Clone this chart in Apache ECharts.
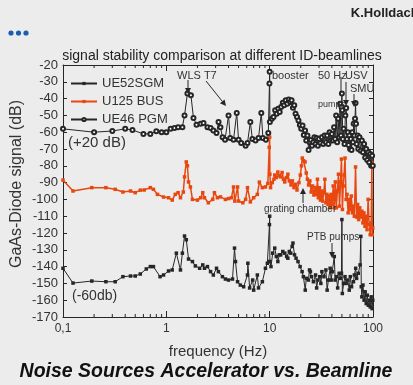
<!DOCTYPE html>
<html>
<head>
<meta charset="utf-8">
<script src="https://cdn.jsdelivr.net/npm/echarts@6/dist/echarts.min.js"></script>
<style>
  html, body { margin: 0; padding: 0; background: #ececec; }
  #chart { width: 413px; height: 385px; }
</style>
</head>
<body>
<div id="chart"></div>
<script>
// UE46 PGM (shifted +20 dB), open circles
const ue46 = [
  [0.1,-58],[0.2,-60],[0.3,-59.3],[0.4,-58],[0.47,-58.7],[0.6,-61],[0.7,-61],[0.8,-59.5],[0.9,-60],[1.0,-60],
  [1.1,-58],[1.2,-57.5],[1.3,-57],[1.43,-57],[1.5,-50],[1.6,-37],[1.73,-38],[1.83,-51.5],[1.96,-55.5],[2.15,-55],
  [2.29,-54.5],[2.5,-57],[2.68,-57.5],[2.85,-59],[3.06,-60.5],[3.2,-54],[3.34,-57],[3.5,-63],[3.7,-64.5],[4.0,-50],
  [4.15,-63.5],[4.47,-64.5],[4.8,-48.5],[5.0,-64.5],[5.3,-66.4],[5.85,-68],[6.1,-66.4],[6.5,-54],[6.8,-64],[7.3,-65],
  [7.8,-63.5],[8.3,-48.5],[8.6,-63.5],[9.2,-64.5],[9.7,-60.5],[9.95,-31],[10.0,-24],[10.05,-54],[10.5,-52],[10.9,-51],
  [11.3,-47],[11.7,-49],[12.1,-46],[12.5,-48],[12.9,-45],[13.4,-42.5],[13.8,-44],[14.3,-41],[14.8,-43],[15.3,-40.5],
  [15.8,-42],[16.3,-41],[16.8,-45.5],[17.3,-44],[17.8,-49],[18.4,-51],[19,-53],[19.6,-55.7],[20.2,-58],[20.8,-56],
  [21.4,-61.7],[22,-59],[22.6,-65],[23.2,-62],[23.8,-70.6],[24.4,-66],[25,-64.6],[25.7,-68],[26.4,-66],[27.1,-63],
  [27.8,-67],[28.5,-63.5],[29.3,-68],[30,-64],[31,-66.5],[32,-63],[33,-67],[34,-62],[35,-66],[36,-62],
  [37,-67],[38,-60],[39,-65],[40,-61],[41,-65],[42,-57],[43,-64],[44,-50],[45,-66],[46,-52],
  [47,-63],[48,-43],[49,-62],[49.6,-45],[50,-37],[50.4,-47],[51,-64],[52,-58],[53,-67],[54,-50],
  [55,-45.6],[56,-64],[57,-60],[58,-67.6],[59,-62],[60,-70],[61,-64],[62,-70.6],[63,-60],[64,-66],
  [65,-55],[66,-62],[67,-52],[67.8,-42.6],[68.5,-55],[69.4,-67],[71,-62],[72,-70],[74,-63],[76,-71],
  [78,-65],[80,-72],[82,-67],[84,-75],[86,-70],[88,-76.5],[90,-72],[92,-78],[94,-73],[96,-80],[98,-74],[99.5,-80]
];

// U125 BUS, orange
const u125 = [
  [0.1,-88.5],[0.125,-95],[0.19,-93],[0.26,-93],[0.32,-94],[0.38,-95.6],[0.45,-95],[0.5,-96],[0.56,-94.5],[0.61,-94.4],
  [0.7,-93],[0.75,-94],[0.82,-97],[0.94,-98.6],[1.05,-99],[1.14,-100.4],[1.22,-97],[1.3,-96],[1.37,-99],[1.46,-95.6],
  [1.5,-86.6],[1.56,-77.7],[1.6,-80],[1.64,-89.6],[1.71,-92.6],[1.79,-100],[2.0,-100.4],[2.15,-99],[2.25,-96],[2.34,-99],
  [2.55,-102],[2.81,-100],[2.92,-96],[3.12,-99],[3.34,-98.5],[3.73,-100],[4.0,-99.5],[4.27,-99],[4.47,-92.6],[4.6,-101],
  [4.89,-92.6],[5.0,-101],[5.5,-102],[5.85,-100],[6.1,-93],[6.5,-101.5],[7.0,-99],[7.6,-97],[7.95,-89.7],[8.5,-93],
  [9.1,-92.6],[9.6,-90.5],[9.9,-69],[10.0,-63],[10.05,-85],[10.2,-93],[10.6,-90],[11.0,-88],[11.2,-85.5],[11.6,-87],
  [12.0,-83.7],[12.4,-86],[12.8,-86.6],[13.2,-84],[13.6,-88],[14.0,-89.6],[14.5,-87],[15.0,-85],[15.5,-89],[16.1,-91.4],
  [16.6,-89],[17.2,-93],[17.8,-91],[18.4,-94.4],[19.2,-90],[19.8,-85.5],[20.3,-80],[20.7,-75.4],[21.3,-77],[22,-77.7],
  [22.6,-84.3],[23.2,-88],[23.8,-91.4],[24.5,-89],[25.2,-95.6],[26,-92],[26.8,-97.4],[27.6,-93],[28.4,-97],[29,-88],
  [29.6,-99],[30.3,-93],[31,-100.4],[31.8,-95],[32.6,-101],[33.4,-96],[34.2,-88],[35,-102],[35.8,-97],[36.7,-103],
  [37.6,-98],[38.5,-105],[39.4,-97],[40.3,-103],[41.2,-92],[42.2,-105],[43.2,-89.6],[44.2,-105],[45.2,-95],[46.3,-85],
  [47.4,-104],[48.5,-89.6],[49.5,-76],[50.6,-106],[51.5,-92],[52.5,-85.5],[53.6,-75.4],[54.9,-100],[56,-97],[57.5,-108],
  [58.9,-100],[60.3,-106],[61.7,-98],[63.2,-108],[64.7,-104],[66,-110],[67.8,-80.7],[69.4,-110.5],[71,-103],[72.7,-112],
  [74.4,-105],[76.2,-110.5],[78,-107],[79.8,-114],[81.7,-108],[83.6,-116],[85.6,-110],[87.6,-118],[89.7,-100],[91.8,-115],
  [94,-121],[96.1,-114],[97.5,-78],[98.4,-121],[99.5,-117]
];

// UE52SGM (shifted -60 dB), filled squares
const ue52 = [
  [0.1,-141],[0.125,-149.8],[0.19,-148.6],[0.26,-149],[0.32,-149],[0.38,-146],[0.45,-145.6],[0.5,-145.6],[0.56,-144.4],[0.64,-141.4],
  [0.7,-140],[0.75,-140],[0.87,-146],[0.94,-145],[1.05,-142.6],[1.14,-142],[1.25,-132],[1.37,-142],[1.43,-132],[1.5,-121.8],
  [1.56,-124],[1.64,-135.5],[1.79,-137],[1.91,-139.6],[2.1,-141],[2.25,-139],[2.34,-141],[2.5,-140],[2.68,-143],[2.85,-145],
  [3.06,-141],[3.19,-143],[3.49,-146],[3.73,-147.4],[4.0,-148],[4.37,-147.4],[4.57,-129],[4.67,-137],[4.89,-149],[5.2,-151],
  [5.6,-152],[6.1,-145],[6.15,-138],[6.4,-152.7],[6.85,-148],[7.0,-154],[7.6,-145],[7.8,-152.7],[8.5,-149],[9.1,-141],
  [9.5,-138],[9.8,-137],[9.95,-115],[10.0,-110],[10.05,-137],[10.3,-140],[10.7,-132],[11.2,-129],[11.6,-134],[12.0,-137],
  [12.4,-133],[12.8,-133],[13.4,-131],[14.0,-132],[14.6,-134],[15.0,-135],[15.5,-131],[16.0,-132],[16.5,-128],[16.8,-126],
  [17.4,-133],[18.0,-135],[18.8,-137],[19.7,-140],[20.6,-143],[21.2,-146],[22.1,-154],[22.6,-147],[23.7,-148],[24.3,-142],
  [24.8,-143],[25.4,-146],[26.5,-149],[27.8,-145],[28.5,-152.7],[29.3,-148],[30.5,-146],[31.3,-150],[32,-143],[33.5,-146],
  [35,-142],[36,-154],[37,-148],[38.5,-141],[39.4,-148],[40.3,-143],[42.2,-134],[43,-148],[44.2,-146],[45.5,-152.7],
  [47,-144],[48.5,-147],[49.5,-144],[50,-112],[50.5,-156],[52,-150],[53.6,-146],[55,-150],[57,-148],[58.9,-154],
  [60.3,-146],[62,-152],[64.7,-149],[66,-145],[68,-141],[69.4,-147],[72,-144],[75,-139],[76.2,-122],[77,-152],
  [78,-158],[80,-151],[82,-160],[84,-155],[86,-162],[88,-157],[90,-163],[92,-160],[94,-164],[96,-158],[98,-165],[99.5,-160]
];

const seriesNames = ['UE52SGM', 'U125 BUS', 'UE46 PGM'];
const minorTicks = [0.2,0.3,0.4,0.5,0.6,0.7,0.8,0.9,2,3,4,5,6,7,8,9,20,30,40,50,60,70,80,90];
const yMin = -170, yMax = -20;

const DARK = '#262626';
const ORANGE = '#e8470f';
const FONT = 'Liberation Sans, Arial, sans-serif';

function arrow(x1, y1, x2, y2) {
  const a = Math.atan2(y2 - y1, x2 - x1);
  const s = 6, w = 3;
  const bx = x2 - s * Math.cos(a), by = y2 - s * Math.sin(a);
  return [
    { type: 'line', shape: { x1, y1, x2: bx, y2: by }, style: { stroke: DARK, lineWidth: 1 }, z: 20 },
    { type: 'polygon', shape: { points: [[x2, y2], [bx - w * Math.sin(a), by + w * Math.cos(a)], [bx + w * Math.sin(a), by - w * Math.cos(a)]] }, style: { fill: DARK }, z: 20 }
  ];
}

function txt(x, y, text, size, extra) {
  return {
    type: 'text', x, y, z: 20,
    style: Object.assign({ text, font: size + 'px ' + FONT, fill: '#333', textVerticalAlign: 'middle' }, extra || {})
  };
}

const chart = echarts.init(document.getElementById('chart'));

const graphics = [
  txt(418, 13, 'K.Holldack', 13, { font: 'bold 13px ' + FONT, fill: '#222', textAlign: 'right' }),
  { type: 'circle', shape: { cx: 11, cy: 33, r: 2.6 }, style: { fill: '#1a5fae' } },
  { type: 'circle', shape: { cx: 18.5, cy: 33, r: 2.6 }, style: { fill: '#1a5fae' } },
  { type: 'circle', shape: { cx: 26, cy: 33, r: 2.6 }, style: { fill: '#1a5fae' } },
  txt(222, 56, 'signal stability comparison at different ID-beamlines', 14, { textAlign: 'center', fill: '#222' }),
  { type: 'text', x: 17, y: 184, rotation: Math.PI / 2, z: 20,
    style: { text: 'GaAs-Diode signal (dB)', font: '16px ' + FONT, fill: '#333', textAlign: 'center', textVerticalAlign: 'middle' } },
  txt(218, 352, 'frequency (Hz)', 15, { textAlign: 'center' }),
  txt(206, 372, 'Noise Sources Accelerator vs. Beamline', 20, { font: 'italic bold 19.5px ' + FONT, fill: '#111', textAlign: 'center' }),
  txt(68, 143, '(+20 dB)', 15),
  txt(72, 296, '(-60db)', 14),
  txt(177, 76, 'WLS T7', 11),
  txt(272, 76, 'booster', 11),
  txt(318, 76, '50 Hz', 11),
  txt(345, 76, 'USV', 11),
  txt(350, 89, 'SMU', 11),
  txt(318, 105, 'pumps', 9),
  txt(264, 209, 'grating chamber', 10),
  txt(307, 237, 'PTB pumps', 10),
  { type: 'line', shape: { x1: 341, y1: 77, x2: 341, y2: 93 }, style: { stroke: DARK, lineWidth: 1 }, z: 20 }
].concat(
  arrow(188, 80, 188, 94),
  arrow(206, 81, 226, 106),
  arrow(346, 82, 346, 106),
  arrow(354, 94, 354, 107),
  arrow(303, 203, 303, 188),
  arrow(332, 243, 332, 258)
);

chart.setOption({
  animation: false,
  backgroundColor: '#ececec',
  grid: { left: 63, right: 40, top: 65, bottom: 68 },
  legend: {
    data: seriesNames,
    orient: 'vertical',
    left: 65, top: 72,
    itemWidth: 26, itemHeight: 4, itemGap: 5,
    textStyle: { fontSize: 13, color: '#333', fontFamily: FONT }
  },
  xAxis: [
    {
      type: 'log', logBase: 10, min: 0.1, max: 100, position: 'bottom',
      axisLine: { lineStyle: { color: DARK } },
      axisTick: { inside: true, length: 6, lineStyle: { color: DARK } },
      splitLine: { show: false },
      axisLabel: {
        fontSize: 12, color: '#333', fontFamily: FONT, margin: 6,
        formatter: v => (Math.abs(v - 0.1) < 1e-6 ? '0,1' : String(Math.round(v)))
      }
    },
    {
      type: 'log', logBase: 10, min: 0.1, max: 100, position: 'top',
      axisLine: { lineStyle: { color: DARK } },
      axisTick: { inside: true, length: 6, lineStyle: { color: DARK } },
      splitLine: { show: false },
      axisLabel: { show: false }
    }
  ],
  yAxis: [
    {
      type: 'value', min: yMin, max: yMax, interval: 10, position: 'left',
      axisLine: { show: true, lineStyle: { color: DARK } },
      axisTick: { show: true, inside: true, length: 4, lineStyle: { color: DARK } },
      splitLine: { show: false },
      axisLabel: { fontSize: 13, color: '#333', fontFamily: FONT, margin: 5 }
    },
    {
      type: 'value', min: yMin, max: yMax, interval: 10, position: 'right',
      axisLine: { show: true, lineStyle: { color: DARK } },
      axisTick: { show: true, inside: true, length: 4, lineStyle: { color: DARK } },
      splitLine: { show: false },
      axisLabel: { show: false }
    }
  ],
  series: [
    {
      name: 'UE52SGM', type: 'line', data: ue52,
      symbol: 'rect', symbolSize: 3.5,
      lineStyle: { color: DARK, width: 1 },
      itemStyle: { color: DARK }
    },
    {
      name: 'U125 BUS', type: 'line', data: u125,
      symbol: 'rect', symbolSize: 3.5,
      lineStyle: { color: ORANGE, width: 1.5 },
      itemStyle: { color: ORANGE }
    },
    {
      name: 'UE46 PGM', type: 'line', data: ue46,
      symbol: 'emptyCircle', symbolSize: 4,
      lineStyle: { color: DARK, width: 1 },
      itemStyle: { color: DARK, borderWidth: 1 }
    },
    {
      type: 'custom', silent: true,
      data: minorTicks.map(f => [f, yMin]),
      renderItem: (params, api) => {
        const b = api.coord([api.value(0), yMin]);
        const t = api.coord([api.value(0), yMax]);
        const st = { stroke: DARK, lineWidth: 1 };
        return {
          type: 'group',
          children: [
            { type: 'line', shape: { x1: b[0], y1: b[1], x2: b[0], y2: b[1] - 3 }, style: st },
            { type: 'line', shape: { x1: t[0], y1: t[1], x2: t[0], y2: t[1] + 3 }, style: st }
          ]
        };
      }
    }
  ],
  graphic: graphics
});
</script>
</body>
</html>
